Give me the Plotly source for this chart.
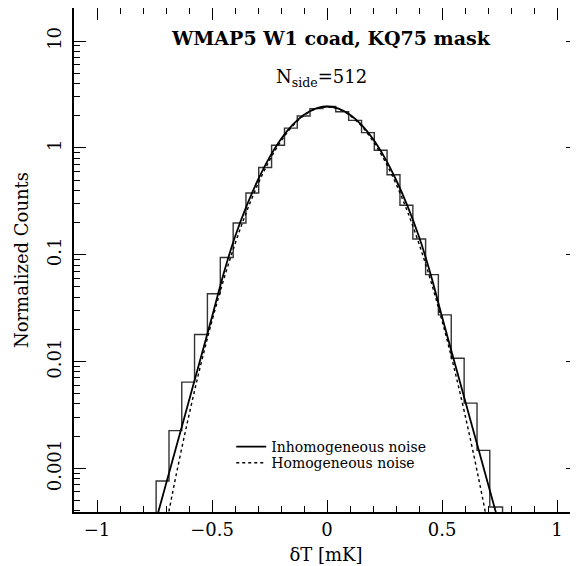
import plotly.graph_objects as go

# ---- data ----
bin_centers = [-0.715, -0.659, -0.604, -0.548, -0.492, -0.436, -0.380, -0.325, -0.269,
               -0.213, -0.157, -0.102, -0.046, 0.010, 0.066, 0.122, 0.178, 0.233,
               0.289, 0.345, 0.401, 0.456, 0.512, 0.568, 0.624, 0.680, 0.735]
hist_counts = [7.6e-4, 2.25e-3, 6.4e-3, 0.0179, 0.043, 0.094, 0.198, 0.378, 0.655,
               1.06, 1.53, 1.99, 2.33, 2.44, 2.18, 1.81, 1.39, 0.95,
               0.56, 0.29, 0.14, 0.065, 0.0273, 0.0107, 0.00407, 0.00147, 0.000434]

curve_x = [-0.75, -0.70, -0.65, -0.60, -0.55, -0.50, -0.45, -0.40, -0.35, -0.30, -0.25,
           -0.20, -0.15, -0.10, -0.05, 0.00, 0.05, 0.10, 0.15, 0.20, 0.25, 0.30,
           0.35, 0.40, 0.45, 0.50, 0.55, 0.60, 0.65, 0.70, 0.75]
inhomog = [0.00029, 0.00071, 0.00175, 0.0043, 0.0106, 0.0262, 0.066, 0.147, 0.285, 0.503, 0.815,
           1.21, 1.644, 2.047, 2.335, 2.44, 2.335, 2.047, 1.644, 1.21, 0.815, 0.503,
           0.285, 0.147, 0.066, 0.0262, 0.0106, 0.0043, 0.00175, 0.00071, 0.00029]
homog = [7.5e-5, 2.86e-4, 9.96e-4, 0.00315, 0.00912, 0.024, 0.0577, 0.126, 0.252, 0.46, 0.764,
         1.157, 1.60, 2.01, 2.31, 2.42, 2.31, 2.01, 1.60, 1.157, 0.764, 0.46,
         0.252, 0.126, 0.0577, 0.024, 0.00912, 0.00315, 9.96e-4, 2.86e-4, 7.5e-5]

y_tick_vals = [0.001, 0.01, 0.1, 1, 10]
y_tick_text = ["0.001", "0.01", "0.1", "1", "10"]

title_text = "<b>WMAP5 W1 coad, KQ75 mask</b>"
nside_text = "N<sub>side</sub>=512"

FONT = "DejaVu Serif"

# histogram outline as a step line, closed down to below the axis at both ends
w = bin_centers[1] - bin_centers[0]
floor = 1e-6
hx = [bin_centers[0] - w] + bin_centers + [bin_centers[-1] + w]
hy = [floor] + hist_counts + [floor]

fig = go.Figure()
fig.add_trace(go.Scatter(x=hx, y=hy, mode="lines", line=dict(shape="hvh", color="#333333", width=1.4),
                         showlegend=False, hoverinfo="skip"))
fig.add_trace(go.Scatter(x=curve_x, y=inhomog, mode="lines", name="Inhomogeneous noise",
                         line=dict(shape="spline", color="black", width=1.8), legend="legend"))
fig.add_trace(go.Scatter(x=curve_x, y=homog, mode="lines", name="Homogeneous noise",
                         line=dict(shape="spline", color="black", width=1.4, dash="dot"), legend="legend2"))

minor_vals = [m * 10 ** e for e in range(-4, 2) for m in range(2, 10)]

fig.update_xaxes(range=[-1.1, 1.091], showline=True, linecolor="black", linewidth=2,
                 mirror="ticks", ticks="inside", ticklen=12, tickwidth=1.2, tickcolor="black",
                 tick0=0, dtick=0.5, showgrid=False, zeroline=False, automargin=False,
                 minor=dict(dtick=0.1, tick0=0, ticks="inside", ticklen=6, tickwidth=1.1,
                            tickcolor="black", showgrid=False),
                 tickfont=dict(family=FONT, size=18, color="black"),
                 title=dict(text="δT [mK]", font=dict(family=FONT, size=18, color="black"), standoff=10))
fig.update_yaxes(type="log", range=[-3.41, 1.31], showline=True, linecolor="black", linewidth=2,
                 mirror="ticks", ticks="inside", ticklen=12, tickwidth=1.2, tickcolor="black",
                 tickmode="array", tickvals=y_tick_vals, ticktext=y_tick_text, tickangle=-90,
                 showgrid=False, zeroline=False, automargin=False, ticklabelstandoff=4,
                 minor=dict(tickmode="array", tickvals=minor_vals, ticks="inside", ticklen=6,
                            tickwidth=1.1, tickcolor="black", showgrid=False),
                 tickfont=dict(family=FONT, size=18, color="black"),
                 title=dict(text="Normalized Counts", font=dict(family=FONT, size=18, color="black"), standoff=10))

fig.add_annotation(text=title_text, xref="paper", yref="paper", x=0.51, y=0.941,
                   xanchor="center", yanchor="middle",
                   showarrow=False, font=dict(family=FONT, size=19, color="black"))
fig.add_annotation(text=nside_text, xref="paper", yref="paper", x=0.492, y=0.862,
                   xanchor="center", yanchor="middle",
                   showarrow=False, font=dict(family=FONT, size=18, color="black"))

leg_common = dict(xanchor="left", yanchor="middle", bgcolor="rgba(0,0,0,0)",
                  font=dict(family=FONT, size=14, color="black"), itemwidth=30)
# the page body adds an 8px offset, so the figure is 8px smaller than the window
fig.update_layout(width=570, height=558, margin=dict(l=66, r=0, t=0, b=54),
                  paper_bgcolor="white", plot_bgcolor="white",
                  legend=dict(x=0.312, y=0.129, **leg_common),
                  legend2=dict(x=0.312, y=0.097, **leg_common))

fig.write_html("out.html")
